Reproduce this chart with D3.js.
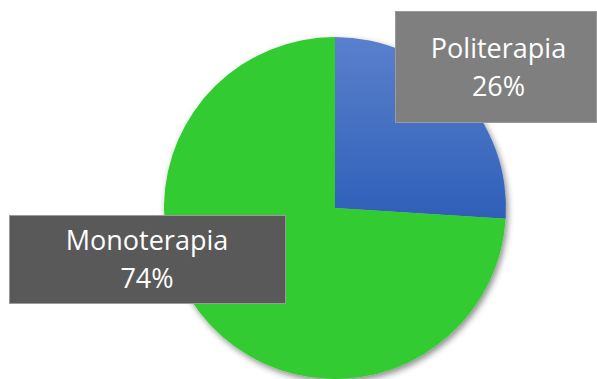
<!DOCTYPE html>
<html>
<head>
<meta charset="utf-8">
<script src="https://cdn.jsdelivr.net/npm/d3@7"></script>
<style>
  html, body { margin: 0; padding: 0; background: #fff; }
  svg { display: block; }
</style>
</head>
<body>
<svg id="chart" width="597" height="379"></svg>
<script>
// Share of patients by therapy type
const categories = ["Politerapia", "Monoterapia"];
const values = [26, 74];
const sliceColors = ["url(#blueGrad)", "#33cc33"];
const labelBoxColors = ["#7f7f7f", "#595959"];

const width = 597, height = 379;
const cx = 335, cy = 208, radius = 171;

const svg = d3.select("#chart");
const defs = svg.append("defs");

// Vertical gradient on the blue slice, in the pie group's local coordinates
const grad = defs.append("linearGradient")
  .attr("id", "blueGrad")
  .attr("gradientUnits", "userSpaceOnUse")
  .attr("x1", 0).attr("y1", -radius)
  .attr("x2", 0).attr("y2", 15);
grad.append("stop").attr("offset", "0%").attr("stop-color", "#5a80cc");
grad.append("stop").attr("offset", "100%").attr("stop-color", "#2e5fb8");

const shadow = defs.append("filter")
  .attr("id", "pieShadow")
  .attr("x", "-20%").attr("y", "-20%")
  .attr("width", "140%").attr("height", "140%");
shadow.append("feDropShadow")
  .attr("dx", 2).attr("dy", 3)
  .attr("stdDeviation", 3)
  .attr("flood-color", "#000")
  .attr("flood-opacity", 0.45);

const data = categories.map((c, i) => ({ name: c, value: values[i], i }));

const pie = d3.pie().sort(null).value(d => d.value);
const arc = d3.arc().innerRadius(0).outerRadius(radius);

const g = svg.append("g")
  .attr("transform", `translate(${cx},${cy})`)
  .attr("filter", "url(#pieShadow)");

g.selectAll("path")
  .data(pie(data))
  .join("path")
  .attr("d", arc)
  .attr("fill", d => sliceColors[d.data.i]);

// Data labels in filled callout boxes
const total = d3.sum(values);
const fmt = v => Math.round(v / total * 100) + "%";
const boxes = [
  { x: 395, y: 11, w: 201, h: 111 },
  { x: 9, y: 215, w: 276, h: 88 }
];

const labels = svg.append("g");
data.forEach((d, k) => {
  const b = boxes[k];
  const lg = labels.append("g");
  lg.append("rect")
    .attr("x", b.x + 0.5).attr("y", b.y + 0.5)
    .attr("width", b.w).attr("height", b.h)
    .attr("fill", labelBoxColors[k])
    .attr("stroke", "#9a9a9a")
    .attr("stroke-width", 1);
  const tx = b.x + b.w / 2 + (k === 0 ? 3 : 0);
  const top = k === 0 ? 58 : 250;
  lg.append("text")
    .attr("x", tx).attr("y", top)
    .attr("text-anchor", "middle")
    .attr("fill", "#ffffff")
    .attr("font-family", "Open Sans, sans-serif")
    .attr("font-size", 27)
    .text(d.name);
  lg.append("text")
    .attr("x", tx).attr("y", top + 38)
    .attr("text-anchor", "middle")
    .attr("fill", "#ffffff")
    .attr("font-family", "Open Sans, sans-serif")
    .attr("font-size", 27)
    .text(fmt(d.value));
});
</script>
</body>
</html>
